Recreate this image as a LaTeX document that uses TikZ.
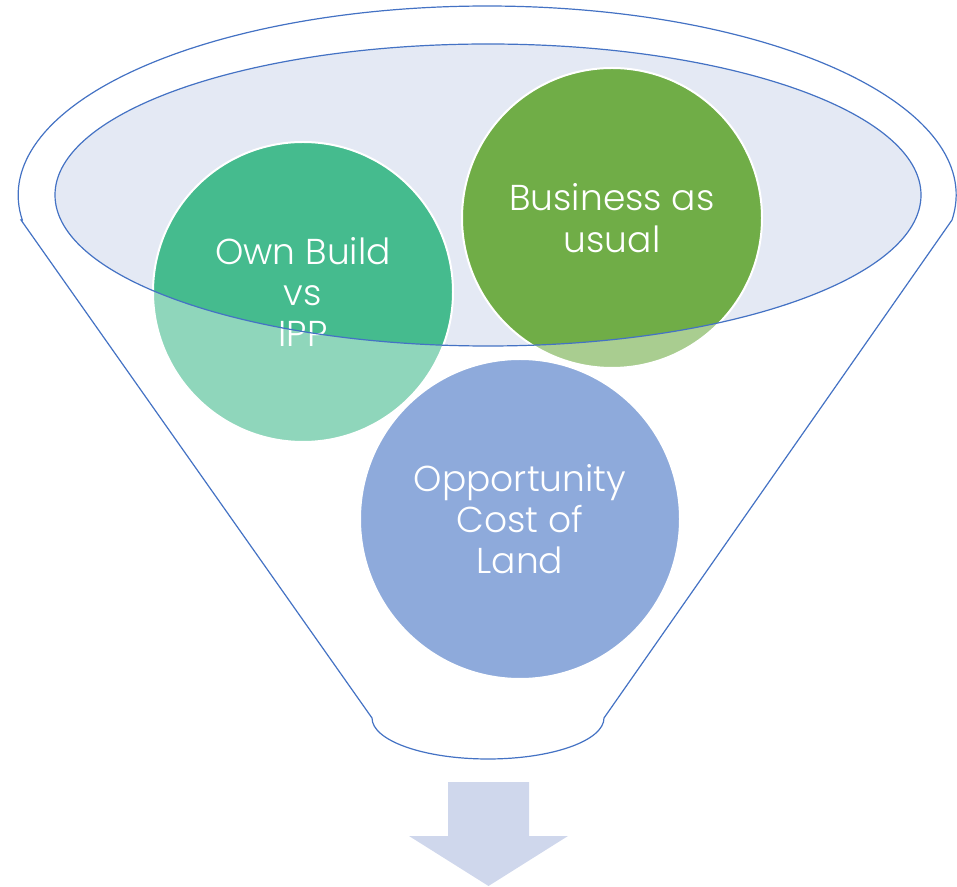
\documentclass[tikz,border=0pt]{standalone}
\usepackage{fontspec}
\setmainfont{Poppins}[UprightFont={* Light}]
\usepackage{tikz}
\usetikzlibrary{positioning}
\definecolor{funnelblue}{HTML}{4472C4}
\definecolor{rimfill}{HTML}{E4E9F4}
\definecolor{teal}{HTML}{45BB8E}
\definecolor{leaf}{HTML}{70AD47}
\definecolor{sky}{HTML}{8EAADB}
\definecolor{arrowfill}{HTML}{CFD7EC}
\tikzstyle{rim} = [draw=funnelblue, line width=0.9pt]
\tikzstyle{bubble} = [circle, draw=white, line width=1.5pt, text=white, align=center, inner sep=0pt, minimum size=225pt, font=\fontsize{27pt}{31pt}\selectfont]

\begin{document}
\begin{tikzpicture}[x=0.75pt, y=0.75pt]
\useasboundingbox (0,0) rectangle (957,886);
\draw [rim, fill=white] (21,666) -- (372,168) arc [start angle=180, end angle=360, x radius=116, y radius=41] -- (952,666) arc [start angle=-7.6, end angle=187.6, x radius=469, y radius=189] -- cycle;
\fill [rimfill] (488,691) ellipse [x radius=433, y radius=151];
\node [bubble, fill=teal] (own) at (303,594) {Own Build\\vs\\IPP};
\node [bubble, fill=leaf] (bau) at (612,668) {Business as\\usual};
\begin{scope}
\clip (own.center) circle (151) (bau.center) circle (151);
\fill [white, fill opacity=0.4, even odd rule] (0,0) rectangle (957,886) (488,691) ellipse [x radius=433, y radius=151];
\end{scope}
\node [bubble, fill=sky, minimum size=240pt] (opp) at (520,367) {Opportunity\\Cost of\\Land};
\draw [rim] (488,691) ellipse [x radius=433, y radius=151];
\fill [arrowfill] (448,104) -- (529,104) -- (529,50) -- (568,50) -- (488.5,0) -- (409,50) -- (448,50) -- cycle;
\end{tikzpicture}
\end{document}
